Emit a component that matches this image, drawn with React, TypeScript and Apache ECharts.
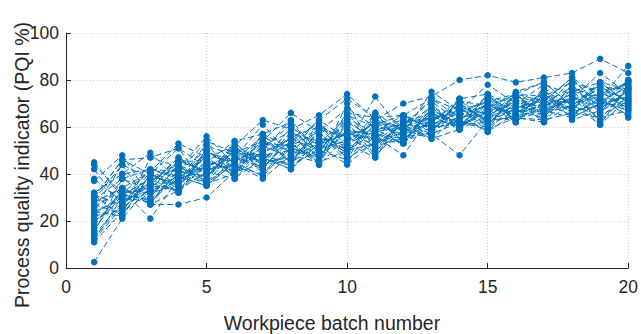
import { useEffect, useRef } from "react";
import * as echarts from "echarts";

// Batch index along the x axis
const batchNumbers = [1, 2, 3, 4, 5, 6, 7, 8, 9, 10, 11, 12, 13, 14, 15, 16, 17, 18, 19, 20];

// Axis ranges
const xRange = { min: 0, max: 20, step: 5 };
const yRange = { min: 0, max: 100, step: 20 };

// PQI (%) per run, one value per workpiece batch
const run01 = [45, 30, 36, 47, 40, 50, 44, 58, 50, 62, 55, 64, 60, 70, 63, 72, 66, 76, 69, 80];
const run02 = [2.5, 21, 35, 33, 46, 41, 52, 47, 57, 50, 61, 56, 66, 61, 70, 65, 73, 68, 77, 71];
const run03 = [42, 26, 41, 36, 50, 42, 55, 45, 60, 48, 64, 54, 68, 59, 72, 63, 75, 67, 79, 70];
const run04 = [37, 48, 30, 44, 38, 52, 42, 56, 47, 66, 52, 62, 57, 72, 61, 74, 64, 78, 66, 76];
const run05 = [32, 40, 49, 37, 53, 39, 57, 44, 62, 46, 66, 53, 70, 59, 74, 62, 77, 65, 75, 68];
const run06 = [31, 22, 40, 51, 43, 49, 45, 60, 52, 58, 57, 55, 63, 67, 66, 70, 69, 74, 63, 77];
const run07 = [28, 34, 27, 42, 56, 44, 48, 50, 63, 55, 59, 61, 55, 65, 69, 66, 72, 70, 74, 79];
const run08 = [25, 44, 38, 32, 45, 54, 40, 53, 45, 70, 50, 58, 64, 60, 74, 64, 68, 80, 70, 73];
const run09 = [20, 29, 42, 39, 35, 47, 61, 48, 55, 52, 73, 57, 62, 72, 59, 75, 79, 69, 78, 66];
const run10 = [15, 38, 33, 46, 41, 38, 50, 63, 49, 60, 47, 65, 59, 63, 70, 62, 71, 81, 68, 75];
const run11 = [11, 24, 32, 35, 48, 45, 39, 52, 58, 45, 62, 60, 72, 64, 66, 73, 67, 72, 83, 74];
const run12 = [18, 33, 21, 38, 42, 51, 47, 42, 53, 57, 55, 53, 67, 62, 64, 69, 74, 66, 72, 86];
const run13 = [13, 27, 36, 33, 44, 40, 52, 58, 44, 65, 60, 63, 56, 69, 58, 71, 62, 75, 79, 70];
const run14 = [23, 31, 29, 40, 36, 46, 56, 49, 61, 53, 58, 65, 61, 66, 71, 63, 76, 63, 67, 72];
const run15 = [30, 46, 40, 34, 50, 43, 49, 55, 50, 63, 54, 59, 69, 60, 67, 74, 65, 73, 61, 78];
const run16 = [27, 23, 47, 43, 37, 53, 44, 46, 56, 49, 64, 54, 58, 70, 62, 68, 72, 68, 75, 69];
const run17 = [19, 32, 34, 45, 46, 41, 53, 50, 47, 61, 51, 62, 66, 60, 68, 65, 70, 77, 71, 67];
const run18 = [38, 28, 39, 36, 52, 48, 42, 57, 54, 51, 66, 58, 63, 68, 61, 72, 68, 71, 76, 72];
const run19 = [16, 34, 28, 41, 39, 50, 46, 44, 59, 56, 49, 64, 60, 64, 73, 66, 73, 64, 70, 80];
const run20 = [29, 38, 42, 38, 47, 39, 51, 61, 46, 59, 56, 48, 65, 59, 65, 71, 63, 76, 62, 74];
const run21 = [22, 25, 37, 45, 42, 44, 38, 48, 57, 47, 53, 61, 71, 62, 60, 67, 75, 70, 73, 64];
const run22 = [44, 32, 41, 53, 47, 52, 63, 59, 65, 74, 63, 70, 73, 80, 82, 79, 81, 83, 89, 83];
const run23 = [12, 30, 28, 39, 35, 45, 49, 43, 51, 54, 62, 56, 57, 48, 63, 64, 66, 69, 65, 71];
const run24 = [32, 40, 42, 41, 54, 49, 54, 66, 58, 68, 60, 57, 75, 67, 78, 70, 78, 74, 77, 76];
const run25 = [26, 33, 32, 37, 45, 42, 57, 51, 48, 58, 52, 55, 62, 71, 69, 74, 71, 67, 69, 73];
const run26 = [14, 28, 35, 47, 40, 47, 43, 54, 62, 50, 58, 60, 64, 65, 58, 66, 69, 72, 74, 68];
const run27 = [21, 38, 30, 44, 36, 51, 45, 47, 53, 64, 57, 53, 68, 61, 66, 62, 74, 66, 71, 77];
const run28 = [24, 22, 40, 35, 49, 46, 50, 53, 44, 56, 61, 65, 59, 63, 72, 67, 64, 78, 66, 80];
const run29 = [17, 31, 38, 42, 36, 40, 55, 45, 52, 44, 54, 62, 64, 66, 64, 73, 70, 65, 72, 65];
const run30 = [12, 26, 33, 39, 43, 43, 40, 51, 47, 62, 48, 59, 55, 59, 70, 64, 62, 70, 61, 72];
const run31 = [29, 44, 27, 33, 41, 48, 46, 56, 60, 55, 59, 53, 63, 69, 63, 69, 66, 73, 68, 75];
const run32 = [31, 27, 37, 43, 38, 54, 57, 62, 49, 66, 64, 58, 61, 64, 68, 74, 79, 69, 79, 76];
const run33 = [26, 34, 41, 32, 51, 38, 47, 42, 55, 53, 47, 63, 58, 72, 74, 68, 71, 81, 73, 79];
const run34 = [30, 46, 47, 51, 35, 45, 53, 52, 63, 72, 64, 65, 72, 67, 71, 74, 73, 79, 75, 78];
const run35 = [28, 34, 27, 27, 30, 41, 44, 48, 45, 50, 53, 58, 57, 62, 59, 64, 63, 66, 64, 67];
const run36 = [24, 29, 33, 37, 44, 46, 48, 44, 50, 46, 56, 54, 60, 61, 62, 65, 67, 64, 70, 69];

const runs = [
  run01, run02, run03, run04, run05, run06, run07, run08, run09,
  run10, run11, run12, run13, run14, run15, run16, run17, run18,
  run19, run20, run21, run22, run23, run24, run25, run26, run27,
  run28, run29, run30, run31, run32, run33, run34, run35, run36,
];

const xTitle = "Workpiece batch number";
const yTitle = "Process quality indicator (PQI %)";

const FONT = '"Liberation Sans", Arial, Helvetica, sans-serif';
const INK = "#262626";
const LINE_BLUE = "#0072BD";

export default function App() {
  const ref = useRef<HTMLDivElement>(null);

  useEffect(() => {
    document.body.style.margin = "0";
    if (!ref.current) return;
    const chart = echarts.init(ref.current, null, { renderer: "svg" });

    const axisCommon = {
      type: "value" as const,
      axisLine: { show: true, lineStyle: { color: INK, width: 1 } },
      axisTick: { show: true, inside: true, length: 5, lineStyle: { color: INK, width: 1 } },
      splitLine: { show: true, lineStyle: { color: "#cfcfcf", width: 1, type: [1, 2] } },
      axisLabel: { color: INK, fontFamily: FONT, fontSize: 17.5 },
    };

    chart.setOption({
      animation: false,
      grid: { left: 66, right: 8, top: 33, bottom: 66, containLabel: false },
      xAxis: {
        ...axisCommon,
        min: xRange.min,
        max: xRange.max,
        interval: xRange.step,
        axisLabel: { ...axisCommon.axisLabel, margin: 10 },
      },
      yAxis: {
        ...axisCommon,
        min: yRange.min,
        max: yRange.max,
        interval: yRange.step,
        axisLabel: { ...axisCommon.axisLabel, margin: 7 },
      },
      graphic: [
        {
          type: "text",
          x: 332,
          y: 323,
          silent: true,
          style: {
            text: xTitle,
            align: "center",
            verticalAlign: "middle",
            font: `19.5px ${FONT}`,
            fill: INK,
          },
        },
        {
          type: "text",
          x: 22,
          y: 165,
          rotation: Math.PI / 2,
          silent: true,
          style: {
            text: yTitle,
            align: "center",
            verticalAlign: "middle",
            font: `19.5px ${FONT}`,
            fill: INK,
          },
        },
      ],
      series: runs.map((values, i) => ({
        name: `run${i + 1}`,
        type: "line",
        data: values.map((v, j) => [batchNumbers[j], v]),
        symbol: "circle",
        symbolSize: 6.5,
        showSymbol: true,
        silent: true,
        itemStyle: { color: LINE_BLUE },
        lineStyle: { color: LINE_BLUE, width: 1, type: [6, 3] },
        emphasis: { disabled: true },
      })),
    });

    return () => chart.dispose();
  }, []);

  return <div ref={ref} style={{ width: 641, height: 334 }} />;
}
